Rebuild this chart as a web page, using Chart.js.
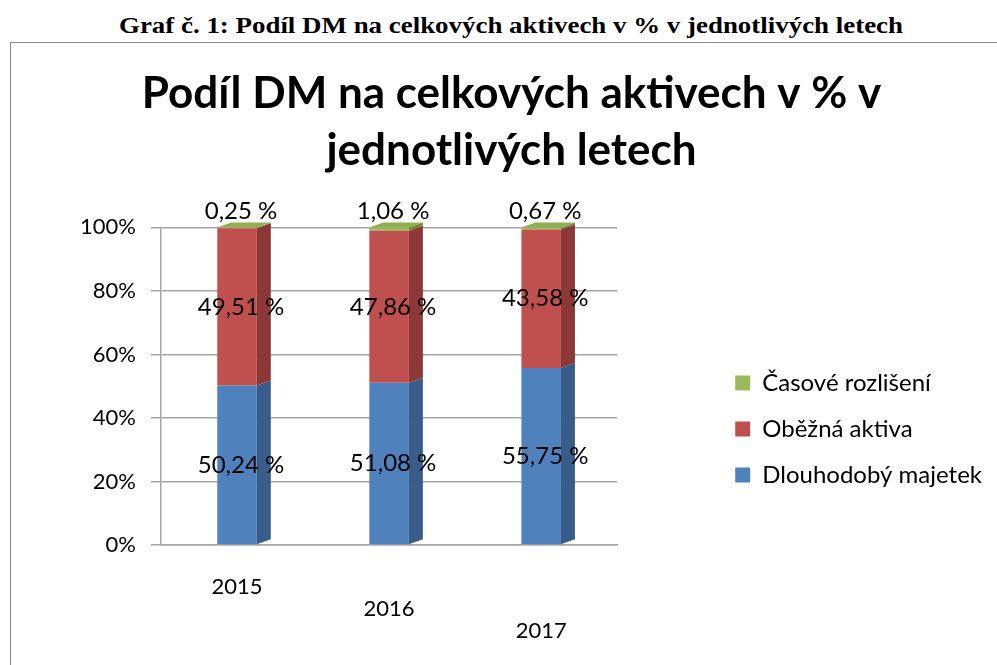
<!DOCTYPE html>
<html>
<head>
<meta charset="utf-8">
<script src="https://cdn.jsdelivr.net/npm/chart.js@4/dist/chart.umd.min.js"></script>
<style>
  body { margin: 0; background: #fff; width: 997px; height: 665px; overflow: hidden; position: relative; }
  #caption { position: absolute; top: 13px; left: 11px; width: 1000px; text-align: center;
    font: bold 23px "Liberation Serif", serif; color: #000; transform: scaleX(1.17); }
  #frame { position: absolute; left: 10px; top: 42px; width: 1000px; height: 640px;
    border: 1px solid #8c8c8c; }
  #wrap { position: absolute; left: 0; top: 0; width: 987px; height: 622px; }
</style>
</head>
<body>
<div id="caption">Graf č. 1: Podíl DM na celkových aktivech v % v jednotlivých letech</div>
<div id="frame"><div id="wrap"><canvas id="podilChart"></canvas></div></div>
<script>
const years = ["2015", "2016", "2017"];
const dlouhodobyMajetek = [50.24, 51.08, 55.75];
const obeznaAktiva = [49.51, 47.86, 43.58];
const casoveRozliseni = [0.25, 1.06, 0.67];
const yTicks = [0, 20, 40, 60, 80, 100];

const sideColors = ["#385d8a", "#8c3836", "#71893f"];

// fake 3D: side and top faces of each bar
const barDepth = {
  id: "barDepth",
  afterDatasetsDraw(chart) {
    const ctx = chart.ctx;
    const n = chart.data.datasets.length;
    ctx.save();
    for (let d = 0; d < n; d++) {
      const meta = chart.getDatasetMeta(d);
      meta.data.forEach((bar) => {
        const p = bar.getProps(["x", "y", "base", "width"], true);
        const r = p.x + p.width / 2;
        const dx = 14, dy = 5;
        ctx.fillStyle = sideColors[d];
        ctx.beginPath();
        ctx.moveTo(r, p.y);
        ctx.lineTo(r + dx, p.y - dy);
        ctx.lineTo(r + dx, p.base - dy);
        ctx.lineTo(r, p.base);
        ctx.closePath();
        ctx.fill();
        if (d === n - 1) {
          const l = p.x - p.width / 2;
          ctx.fillStyle = "#8fb04e";
          ctx.beginPath();
          ctx.moveTo(l, p.y);
          ctx.lineTo(l + dx, p.y - dy);
          ctx.lineTo(r + dx, p.y - dy);
          ctx.lineTo(r, p.y);
          ctx.closePath();
          ctx.fill();
        }
      });
    }
    ctx.restore();
  },
};

// value labels in Czech format
const valueLabels = {
  id: "valueLabels",
  afterDraw(chart) {
    const ctx = chart.ctx;
    const n = chart.data.datasets.length;
    ctx.save();
    ctx.font = "24px Lato";
    ctx.fillStyle = "#000";
    ctx.textAlign = "center";
    ctx.textBaseline = "middle";
    for (let d = 0; d < n; d++) {
      const ds = chart.data.datasets[d];
      chart.getDatasetMeta(d).data.forEach((bar, i) => {
        const p = bar.getProps(["x", "y", "base"], true);
        const txt = ds.data[i].toFixed(2).replace(".", ",") + " %";
        const y = d === n - 1 ? p.y - 16 : (p.y + p.base) / 2;
        ctx.fillText(txt, p.x + 4, y);
      });
    }
    ctx.restore();
  },
};

// push the legend down a bit, like the Excel original
const legendShift = {
  id: "legendShift",
  afterLayout(chart) {
    chart.legend.top += 65;
    chart.legend.bottom += 65;
  },
};

function initChart() {
  const config = {
    type: "bar",
    data: {
      labels: years,
      datasets: [
        { label: "Dlouhodobý majetek", data: dlouhodobyMajetek, backgroundColor: "#4f81bd" },
        { label: "Oběžná aktiva", data: obeznaAktiva, backgroundColor: "#c0504d" },
        { label: "Časové rozlišení", data: casoveRozliseni, backgroundColor: "#9bbb59" },
      ],
    },
    options: {
      responsive: true,
      maintainAspectRatio: false,
      animation: false,
      layout: { padding: { left: 20, right: 6, top: 20, bottom: 0 } },
      datasets: { bar: { barPercentage: 0.26, categoryPercentage: 1 } },
      plugins: {
        title: {
          display: true,
          text: ["Podíl DM na celkových aktivech v % v", "jednotlivých letech"],
          font: { family: "Lato", size: 44, weight: "bold", lineHeight: 1.3 },
          color: "#000",
          padding: { top: 2, bottom: 48 },
        },
        legend: {
          position: "right",
          reverse: true,
          maxWidth: 400,
          labels: {
            boxWidth: 15,
            boxHeight: 15,
            padding: 22,
            color: "#000",
            font: { family: "Lato", size: 24 },
          },
        },
        tooltip: { enabled: false },
      },
      scales: {
        x: {
          stacked: true,
          grid: { display: false },
          border: { color: "#a6a6a6", width: 1.5 },
          ticks: {
            color: "#000",
            font: { family: "Lato", size: 22, lineHeight: 1.0 },
            padding: 23,
            // stagger the year labels like the tilted 3D floor
            callback: (v, i) => Array(i).fill("").concat(years[i]),
          },
        },
        y: {
          stacked: true,
          min: 0,
          max: 100,
          afterBuildTicks: (axis) => {
            axis.ticks = yTicks.map((v) => ({ value: v }));
          },
          afterFit: (scale) => {
            scale.width = 130;
          },
          grid: { color: "#a6a6a6", lineWidth: 1.5, tickLength: 10 },
          border: { color: "#a6a6a6", width: 1.5 },
          ticks: {
            color: "#000",
            font: { family: "Lato", size: 22 },
            padding: 15,
            callback: (v) => v + "%",
          },
        },
        gap: {
          position: "right",
          grid: { display: false },
          border: { display: false },
          ticks: { display: false },
          afterFit: (scale) => {
            scale.width = 96;
          },
        },
      },
    },
    plugins: [barDepth, valueLabels, legendShift],
  };

  const ctx = document.getElementById("podilChart").getContext("2d");
  new Chart(ctx, config);
}

initChart();
</script>
</body>
</html>
